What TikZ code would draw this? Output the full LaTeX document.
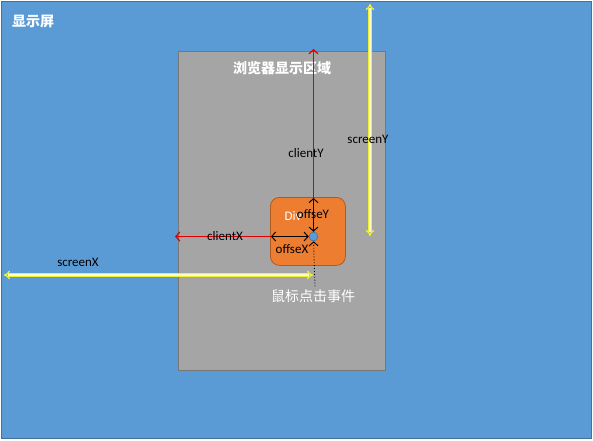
\documentclass[tikz,border=0pt]{standalone}
\usepackage{fontspec}
\setmainfont{Carlito}
\newfontfamily\cjk{Noto Sans CJK SC}
\usetikzlibrary{arrows.meta}
\definecolor{screenblue}{RGB}{91,155,213}
\definecolor{screenedge}{RGB}{65,113,156}
\definecolor{browsergray}{RGB}{165,165,165}
\definecolor{browseredge}{RGB}{120,120,120}
\definecolor{divorange}{RGB}{237,125,49}
\definecolor{divedge}{RGB}{174,90,33}
\definecolor{clientred}{RGB}{225,0,0}
\definecolor{screenyellow}{RGB}{240,240,50}
\begin{document}
\begin{tikzpicture}[x=1pt,y=-1pt,
    panel/.style={draw,line width=0.8pt,anchor=north west,inner sep=0pt},
    textlabel/.style={font=\fontsize{13}{15}\selectfont,text=black,inner sep=0pt},
    title/.style={font=\cjk\bfseries\fontsize{14}{16}\selectfont,text=white,inner sep=0pt},
    clientline/.style={draw=clientred,line width=1.2pt,-{Straight Barb[length=4pt,width=9pt]}},
    offsetline/.style={draw=black,line width=1pt,{Straight Barb[length=4pt,width=9pt]}-{Straight Barb[length=4pt,width=9pt]}},
    screenline/.style={draw=screenyellow,double=yellow!20!white,double distance=1.5pt,line width=1.3pt,{Implies}-{Implies}}]
    \useasboundingbox (0,0) rectangle (593,440);

    % screen and browser
    \node[panel,fill=screenblue,draw=screenedge,minimum width=590pt,minimum height=437pt] (screen) at (1,1) {};
    \node[title,anchor=west] (screenlabel) at (12,22) {显示屏};
    \node[panel,fill=browsergray,draw=browseredge,minimum width=207pt,minimum height=319pt] (browser) at (178,51) {};
    \node[title] (browserlabel) at (282,68) {浏览器显示区域};

    % the div and the click point
    \node[panel,fill=divorange,draw=divedge,rounded corners=9pt,minimum width=75pt,minimum height=68pt] (div) at (270,197) {};
    \node[font=\fontsize{13}{15}\selectfont,text=white,inner sep=0pt] (divlabel) at (293,216) {Div};
    \node[circle,fill=screenblue,draw=screenedge,line width=0.6pt,minimum size=9pt,inner sep=0pt] (dot) at (313.5,236.5) {};

    % screen
    \coordinate (screenYtop) at (370,4);
    \coordinate (screenYbottom) at (370,236);
    \coordinate (screenXleft) at (4,275);
    \coordinate (screenXright) at (313,275);
    \draw[screenline] (screenYtop) -- (screenYbottom);
    \draw[screenline] (screenXleft) -- (screenXright);
    \node[textlabel] (screenYlabel) at (368,139) {screenY};
    \node[textlabel] (screenXlabel) at (78,262) {screenX};

    % click event
    \node[font=\cjk\fontsize{14}{16}\selectfont,text=white,inner sep=0pt] (clicklabel) at (313,296) {鼠标点击事件};
    \draw[black,line width=0.9pt,dotted,-{Straight Barb[length=4pt,width=9pt]}] ([xshift=2pt,yshift=3pt]clicklabel.north) -- (dot.south);

    % client
    \coordinate (clienttop) at (313.5,49);
    \coordinate (clientleft) at (175,236.5);
    \draw[clientline] (dot.west) -- (clientleft);
    \draw[clientline] (dot.north) -- (clienttop);
    \node[textlabel] (clientXlabel) at (225,236) {clientX};
    \node[textlabel] (clientYlabel) at (306,153) {clientY};

    % offset
    \coordinate (divtop) at (313.5,198);
    \coordinate (divleft) at (271,236.5);
    \draw[offsetline] (divtop) -- (dot.north);
    \draw[offsetline] (divleft) -- (dot.west);
    \node[textlabel] (offseYlabel) at (313,214) {offseY};
    \node[textlabel] (offseXlabel) at (292,249) {offseX};
\end{tikzpicture}
\end{document}
